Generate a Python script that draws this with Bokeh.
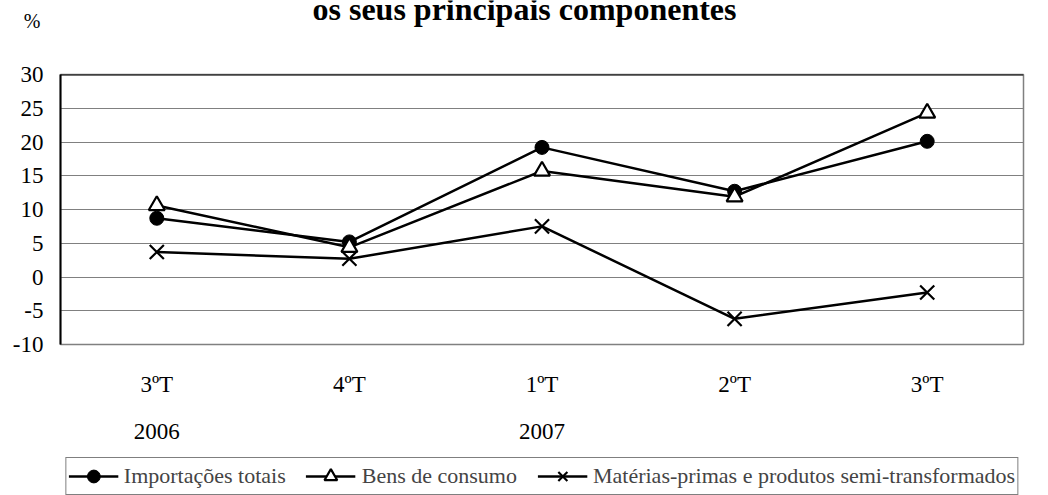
from bokeh.plotting import figure
from bokeh.layouts import column
from bokeh.models import (Range1d, FixedTicker, Legend, LegendItem, Span,
                          LinearAxis)
from bokeh.core.properties import value
from bokeh.embed import file_html
from bokeh.resources import INLINE

# ---- data ----
quarters = ["3ºT", "4ºT", "1ºT", "2ºT", "3ºT"]
years = ["2006", "", "2007", "", ""]
importacoes_totais = [8.7, 5.2, 19.2, 12.7, 20.1]
bens_de_consumo = [10.6, 4.4, 15.7, 11.9, 24.3]
materias_primas = [3.7, 2.7, 7.5, -6.2, -2.3]
series_names = ["Importações totais", "Bens de consumo",
                "Matérias-primas e produtos semi-transformados"]
markers = ["circle", "triangle", "x"]
y_ticks = [-10, -5, 0, 5, 10, 15, 20, 25, 30]
title_text = "os seus principais componentes"
unit_text = "%"

FONT = "Liberation Serif"
W = 1048
HEAD_H = 40
FOOT_H = 49
MAIN_H = 495 - HEAD_H - FOOT_H
LEFT, RIGHT = 60, 25
xs = [i + 0.5 for i in range(len(quarters))]
series = [importacoes_totais, bens_de_consumo, materias_primas]


def plain(fig):
    fig.background_fill_color = "white"
    fig.border_fill_color = "white"
    fig.grid.visible = False
    fig.outline_line_color = None


def add_series(fig):
    out = []
    for vals, mk in zip(series, markers):
        ln = fig.line(xs, vals, line_color="black", line_width=2.5)
        if mk == "circle":
            sc = fig.scatter(xs, vals, marker="circle", size=14,
                             fill_color="black", line_color="black",
                             line_width=1)
        elif mk == "triangle":
            sc = fig.scatter(xs, vals, marker="triangle", size=16,
                             fill_color="white", line_color="black",
                             line_width=2.2)
        else:
            sc = fig.scatter(xs, vals, marker="x", size=20,
                             line_color="black", line_width=2.2)
        out.append([ln, sc])
    return out


# ---- header: title and unit ----
head = figure(width=W, height=HEAD_H, output_backend="svg",
              toolbar_location=None,
              x_range=Range1d(LEFT, W - RIGHT), y_range=Range1d(HEAD_H, 0),
              min_border_left=LEFT, min_border_right=RIGHT,
              min_border_top=0, min_border_bottom=0)
plain(head)
head.xaxis.visible = False
head.yaxis.ticker = FixedTicker(ticks=[20])
head.yaxis.major_label_overrides = {20: unit_text}
head.yaxis.major_label_text_font = FONT
head.yaxis.major_label_text_font_size = "20px"
head.yaxis.major_label_text_color = "black"
head.yaxis.major_label_standoff = 20
head.yaxis.major_tick_out = 0
head.yaxis.major_tick_in = 0
head.yaxis.axis_line_color = None
head.yaxis.major_tick_line_color = None
head.yaxis.minor_tick_line_color = None
head.text(x=[524], y=[8], text=[title_text], text_align="center",
          text_baseline="middle", text_font=value(FONT),
          text_font_style="bold", text_font_size="32px", text_color="black")

# ---- main chart ----
p = figure(width=W, height=MAIN_H, output_backend="svg",
           toolbar_location=None,
           x_range=Range1d(0, len(quarters)), y_range=Range1d(-10, 30),
           min_border_left=LEFT, min_border_right=RIGHT, min_border_top=34,
           min_border_bottom=102)
p.background_fill_color = "white"
p.border_fill_color = "white"
p.outline_line_color = "#808080"
p.outline_line_width = 1.5

p.xgrid.visible = False
p.ygrid.grid_line_color = "#808080"
p.ygrid.grid_line_width = 1
p.yaxis.ticker = FixedTicker(ticks=y_ticks)
p.yaxis.major_label_overrides = {t: str(t) for t in y_ticks}
p.xaxis.ticker = FixedTicker(ticks=xs)
p.xaxis.major_label_overrides = {x: q for x, q in zip(xs, quarters)}

year_axis = LinearAxis(
    ticker=FixedTicker(ticks=[x for x, y in zip(xs, years) if y]),
    major_label_overrides={x: y for x, y in zip(xs, years) if y})
p.add_layout(year_axis, "below")

for ax in (p.xaxis + p.yaxis):
    ax.major_tick_line_color = None
    ax.minor_tick_line_color = None
    ax.major_tick_out = 0
    ax.major_tick_in = 0
    ax.major_label_text_font = FONT
    ax.major_label_text_font_size = "23px"
    ax.major_label_text_color = "black"
for ax in p.xaxis:
    ax.axis_line_color = None
p.xaxis[0].major_label_standoff = 27
year_axis.major_label_standoff = 24
p.yaxis.axis_line_color = "black"
p.yaxis.axis_line_width = 2
p.yaxis.major_label_standoff = 17

p.add_layout(Span(location=30, dimension="width", line_color="black",
                  line_width=2))
add_series(p)

# ---- footer: legend ----
foot = figure(width=W, height=FOOT_H, output_backend="svg",
              toolbar_location=None,
              x_range=Range1d(0, len(quarters)), y_range=Range1d(1000, 1001),
              min_border_left=LEFT, min_border_right=RIGHT,
              min_border_top=0, min_border_bottom=0)
plain(foot)
foot.axis.visible = False
legend_rs = add_series(foot)
items = [LegendItem(label=n, renderers=rs) for n, rs in zip(series_names, legend_rs)]
legend = Legend(items=items, orientation="horizontal", location="top_center",
                label_text_font=FONT, label_text_font_size="22px",
                glyph_width=50, glyph_height=32, label_standoff=6,
                spacing=20, padding=2, margin=11,
                border_line_color="black", border_line_width=1,
                background_fill_color="white", background_fill_alpha=1)
foot.add_layout(legend, "center")

layout = column(head, p, foot, spacing=0)
open("out.html", "w").write(file_html(layout, INLINE))
